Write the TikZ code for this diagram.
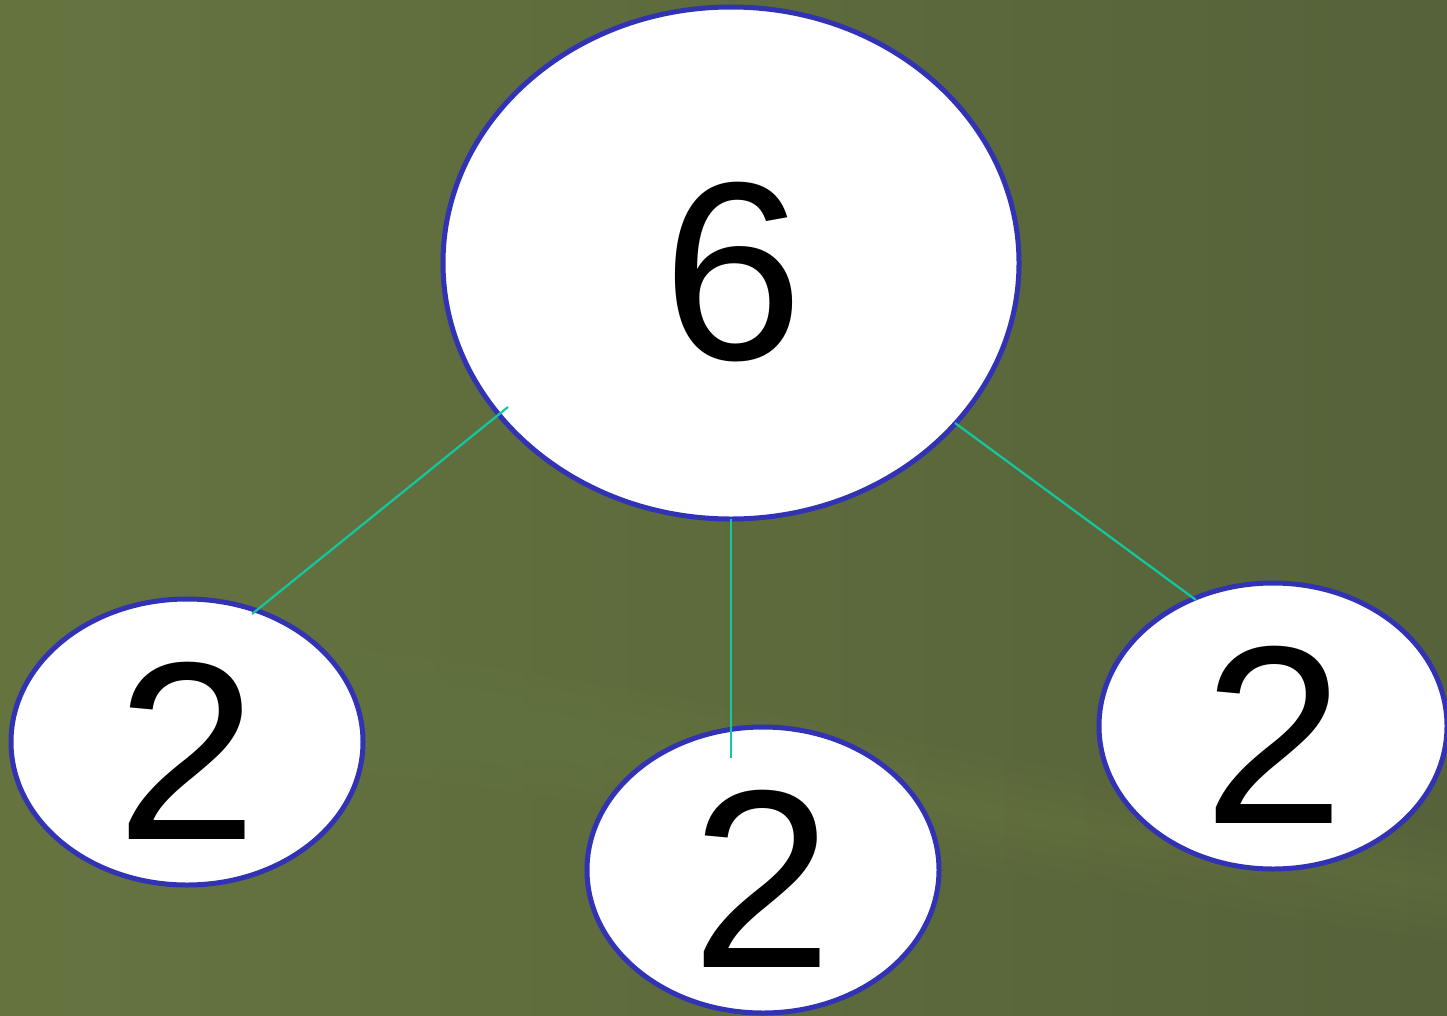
\documentclass[tikz,border=0pt]{standalone}
\usepackage{fontspec}
\setmainfont{Liberation Sans}
\usetikzlibrary{shapes.geometric}
\definecolor{oliveLight}{HTML}{65743F}
\definecolor{oliveDark}{HTML}{56623A}
\definecolor{oliveBand}{HTML}{6C7D47}
\definecolor{rim}{HTML}{3232B4}
\definecolor{link}{HTML}{12C8A0}
\tikzset{
  bubble/.style={ellipse, draw=rim, line width=5pt, fill=white, inner sep=0pt},
  digit/.style={font=\fontsize{254}{254}\selectfont, inner sep=0pt},
  edge/.style={draw=link, line width=2.2pt}
}
\begin{document}
\begin{tikzpicture}[x=1pt, y=-1pt]
  % olive background, lighter on the left, darker on the right
  \shade[left color=oliveLight, right color=oliveDark] (0,0) rectangle (1447,1015);
  % a soft lighter band across the lower part
  \foreach \d in {0,12,24,36,48} {
    \fill[oliveBand, opacity=0.08]
      (0,640+\d) .. controls (400,610+\d) and (800,740+\d) .. (1447,830+\d)
      -- (1447,940-\d) .. controls (800,850-\d) and (400,740-\d) .. (0,760-\d) -- cycle;
  }
  \useasboundingbox (0,0) rectangle (1447,1015);

  % nodes
  \node[bubble, minimum width=576pt, minimum height=512pt] (top) at (731,263) {};
  \node[bubble, minimum width=352pt, minimum height=286pt] (left) at (187,742) {};
  \node[bubble, minimum width=352pt, minimum height=286pt] (mid) at (763,870) {};
  \node[bubble, minimum width=348pt, minimum height=286pt] (right) at (1273,726) {};

  \node[digit] (t6) at (733,272) {6};
  \node[digit] (l2) at (187,751) {2};
  \node[digit] (m2) at (762,879) {2};
  \node[digit] (r2) at (1274,735) {2};

  % connector end points
  \coordinate (topL) at (508,407);
  \coordinate (topM) at (731,519);
  \coordinate (topR) at (955,423);
  \coordinate (leftT) at (252,614);
  \coordinate (midT) at (731,758);
  \coordinate (rightT) at (1196,600);

  \draw[edge] (topL) -- (leftT);
  \draw[edge] (topM) -- (midT);
  \draw[edge] (topR) -- (rightT);
\end{tikzpicture}
\end{document}
